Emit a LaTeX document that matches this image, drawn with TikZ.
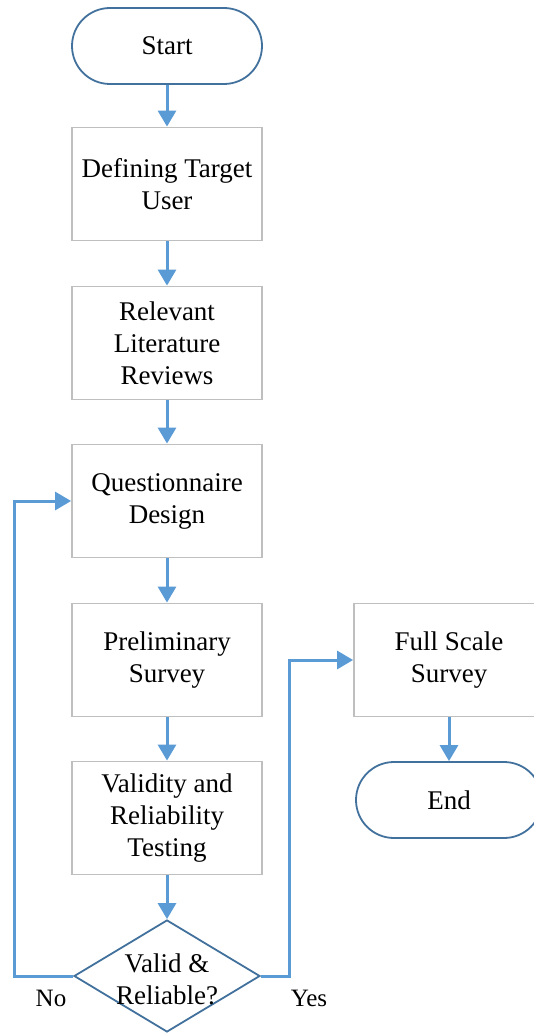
\documentclass[tikz,border=0pt]{standalone}
\usepackage{fontspec}
\setmainfont{Liberation Serif}
\usetikzlibrary{shapes.geometric,arrows.meta}
\definecolor{arrowblue}{HTML}{5B9BD5}
\definecolor{edgeblue}{HTML}{41719C}
\definecolor{boxgray}{HTML}{BFBFBF}
\tikzset{
  base/.style={font=\fontsize{27}{32}\selectfont, align=center, inner sep=0pt},
  term/.style={base, draw=edgeblue, line width=1.8pt, fill=white, rounded corners=38pt, minimum width=190pt, minimum height=76pt},
  stepbox/.style={base, draw=boxgray, line width=1.8pt, fill=white, minimum width=190pt, minimum height=113pt},
  dia/.style={diamond, draw=edgeblue, line width=1.8pt, fill=white, inner sep=0pt, minimum width=186pt, minimum height=112pt},
  conn/.style={draw=arrowblue, line width=3pt, -{Triangle[width=18pt,length=16pt]}},
  lbl/.style={font=\fontsize{25}{28}\selectfont, inner sep=0pt}
}
\begin{document}
\begin{tikzpicture}[x=1pt,y=-1pt]
\useasboundingbox (0,0) rectangle (533,1033);
\node[term] (start) at (167,46) {Start};
\node[stepbox] (b1) at (167,184) {Defining Target\\User};
\node[stepbox] (b2) at (167,343) {Relevant\\Literature\\Reviews};
\node[stepbox] (b3) at (167,501) {Questionnaire\\Design};
\node[stepbox] (b4) at (167,660) {Preliminary\\Survey};
\node[stepbox] (b5) at (167,818) {Validity and\\Reliability\\Testing};
\node[dia] (d) at (167,976) {};
\node[base] (dt) at (167,979) {Valid \&\\Reliable?};
\node[stepbox] (fs) at (449,660) {Full Scale\\Survey};
\node[term, minimum width=186pt] (end) at (449,800) {End};
\coordinate (noC1) at (14,976);
\coordinate (noC2) at (14,501);
\coordinate (yesC1) at (289,976);
\coordinate (yesC2) at (289,660);
\draw[conn] (start) -- (b1);
\draw[conn] (b1) -- (b2);
\draw[conn] (b2) -- (b3);
\draw[conn] (b3) -- (b4);
\draw[conn] (b4) -- (b5);
\draw[conn] (b5) -- (d);
\draw[conn] (d.west) -- (noC1) -- (noC2) -- (b3.west);
\draw[conn] (d.east) -- (yesC1) -- (yesC2) -- (fs.west);
\draw[conn] (fs) -- (end);
\node[lbl] (no) at (51,998) {No};
\node[lbl] (yes) at (309,998) {Yes};
\end{tikzpicture}
\end{document}
